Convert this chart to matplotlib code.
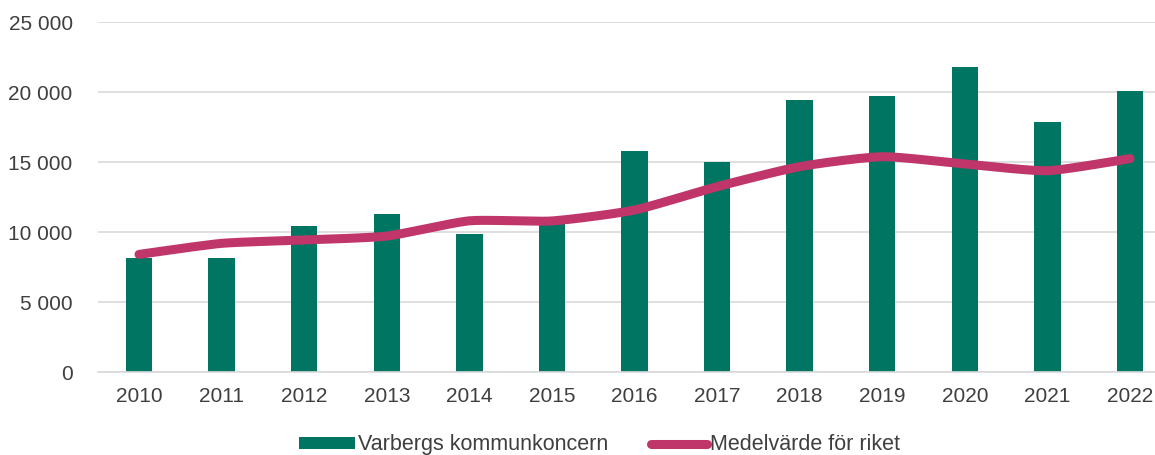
import numpy as np
import matplotlib
matplotlib.use("Agg")
import matplotlib.pyplot as plt
from matplotlib.ticker import FuncFormatter

plt.rcParams["font.family"] = ["Liberation Sans", "DejaVu Sans"]

years = ["2010", "2011", "2012", "2013", "2014", "2015", "2016",
         "2017", "2018", "2019", "2020", "2021", "2022"]
varberg = [8120, 8120, 10450, 11260, 9880, 10550, 15790,
           15020, 19430, 19710, 21760, 17860, 20050]
riket = [8400, 9190, 9430, 9710, 10800, 10790, 11570,
         13240, 14670, 15380, 14860, 14380, 15240]

BAR_COLOR = "#007662"
LINE_COLOR = "#C0356A"
TEXT_COLOR = "#3F3F3F"
GRID_COLOR = "#D9D9D9"


def smooth(xs, ys, steps=20, tension=0.1):
    # light bezier smoothing through every point, like Excel
    xs = np.asarray(xs, float)
    ys = np.asarray(ys, float)
    n = len(xs)
    out_x, out_y = [], []
    t = np.linspace(0, 1, steps)
    for i in range(n - 1):
        p0 = np.array([xs[max(i - 1, 0)], ys[max(i - 1, 0)]])
        p1 = np.array([xs[i], ys[i]])
        p2 = np.array([xs[i + 1], ys[i + 1]])
        p3 = np.array([xs[min(i + 2, n - 1)], ys[min(i + 2, n - 1)]])
        c1 = p1 + (p2 - p0) * tension
        c2 = p2 - (p3 - p1) * tension
        for k in range(2):
            seg = ((1 - t) ** 3 * p1[k] + 3 * (1 - t) ** 2 * t * c1[k]
                   + 3 * (1 - t) * t ** 2 * c2[k] + t ** 3 * p2[k])
            (out_x if k == 0 else out_y).extend(seg[:-1] if i < n - 2 else seg)
    return out_x, out_y


fig = plt.figure(figsize=(11.55, 4.55), dpi=100)
ax = fig.add_axes([0.0846, 0.1824, 0.9295, 0.7692])

x = np.arange(len(years))
bars = ax.bar(x, varberg, width=0.32, color=BAR_COLOR, label="Varbergs kommunkoncern", zorder=2)
sx, sy = smooth(x, riket)
line, = ax.plot(sx, sy, color=LINE_COLOR, lw=6.5, solid_capstyle="round",
                label="Medelvärde för riket", zorder=3)

ax.set_xlim(-0.5, len(years) - 0.5)
ax.set_ylim(0, 25000)
ax.set_yticks(range(0, 25001, 5000))
ax.yaxis.set_major_formatter(FuncFormatter(lambda v, p: f"{int(v):,}".replace(",", " ")))
ax.set_xticks(x)
ax.set_xticklabels(years)

ax.grid(axis="y", color=GRID_COLOR, lw=1.2, zorder=0)
for side in ["top", "right", "left"]:
    ax.spines[side].set_visible(False)
ax.spines["bottom"].set_color(GRID_COLOR)
ax.spines["bottom"].set_linewidth(1.2)
ax.tick_params(axis="both", length=0, labelsize=15, colors=TEXT_COLOR)
ax.tick_params(axis="y", pad=18)
ax.tick_params(axis="x", pad=11)

fig.legend([bars, line], ["Varbergs kommunkoncern", "Medelvärde för riket"],
           loc="center", bbox_to_anchor=(0.519, 0.022), ncol=2, frameon=False,
           fontsize=15.5, labelcolor=TEXT_COLOR, handlelength=2.6,
           handletextpad=0.12, columnspacing=2.0, handleheight=0.5)

fig.savefig("out.png", dpi=100)
